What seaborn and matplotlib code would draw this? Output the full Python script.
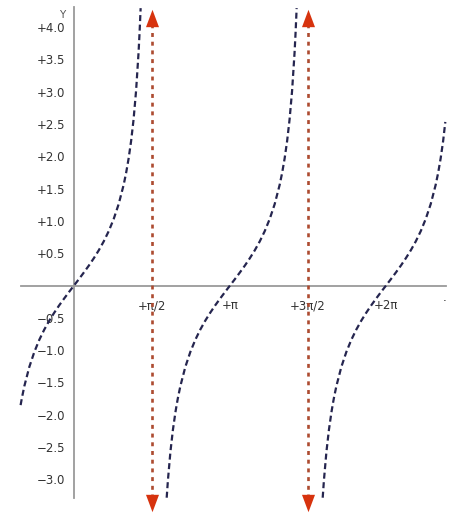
import numpy as np
import pandas as pd
import matplotlib
matplotlib.use("Agg")
import matplotlib.pyplot as plt
import seaborn as sns

PI = np.pi

# ---- data (tangent-shaped branches) ----
shape_u = [-1.275, -1.25, -1.2, -1.15, -1.1, -1.075, -1.05, -1.0, -0.9, -0.8, -0.7, -0.6,
           -0.5, -0.4, -0.3, -0.2, -0.1, 0.0, 0.1, 0.2, 0.3, 0.4, 0.5, 0.6, 0.7,
           0.8, 0.9, 1.0, 1.05, 1.1, 1.15, 1.194, 1.2, 1.25, 1.3, 1.32, 1.342]
shape_y = [-3.282, -3.010, -2.572, -2.234, -1.965, -1.850, -1.743, -1.557, -1.260, -1.030,
           -0.842, -0.684, -0.546, -0.423, -0.309, -0.203, -0.100, 0.0, 0.100, 0.203,
           0.309, 0.423, 0.546, 0.684, 0.842, 1.030, 1.260, 1.557, 1.743, 1.965,
           2.234, 2.530, 2.572, 3.010, 3.602, 3.903, 4.290]
branch_center = [0.0, PI, 2 * PI]
branch_u_min = [-1.075, -1.275, -1.275]
branch_u_max = [1.342, 1.342, 1.194]

asymptotes = [PI / 2, 3 * PI / 2]
arrow_top, arrow_bottom = 4.133, -3.367

y_ticks = [4.0, 3.5, 3.0, 2.5, 2.0, 1.5, 1.0, 0.5, -0.5, -1.0, -1.5, -2.0, -2.5, -3.0]
x_ticks = [PI / 2, PI, 3 * PI / 2, 2 * PI]
x_tick_labels = ["+π/2", "+π", "+3π/2", "+2π"]

rows = []
for b, c in enumerate(branch_center):
    for u, y in zip(shape_u, shape_y):
        if branch_u_min[b] - 1e-9 <= u <= branch_u_max[b] + 1e-9:
            rows.append({"x": c + u, "y": y, "branch": b})
df = pd.DataFrame(rows)

sns.set_style("white")
plt.rcParams['font.family'] = ['DejaVu Sans']

fig = plt.figure(figsize=(4.67, 5.27), dpi=100)
ax = fig.add_axes([0, 0, 1, 1])
ax.set_xlim(-1.490, 7.914)
ax.set_ylim(-3.735, 4.416)

# axes spines through origin
for s in ["top", "right"]:
    ax.spines[s].set_visible(False)
ax.spines["left"].set_position(("data", 0))
ax.spines["bottom"].set_position(("data", 0))
ax.spines["left"].set_bounds(-3.28, 4.30)
ax.spines["bottom"].set_bounds(-1.07, 7.50)
for s in ["left", "bottom"]:
    ax.spines[s].set_color("#9a9a9a")
    ax.spines[s].set_linewidth(1.3)
    ax.spines[s].set_zorder(1)

ax.set_yticks(y_ticks)
ax.set_yticklabels([("+%.1f" % v) if v > 0 else ("−%.1f" % abs(v)) for v in y_ticks])
ax.tick_params(axis="y", direction="inout", length=5, width=1, color="#9a9a9a",
               labelsize=8.5, labelcolor="#333333", pad=4)
ax.set_xticks(x_ticks)
ax.set_xticklabels(x_tick_labels)
ax.tick_params(axis="x", length=0, labelsize=8.5, labelcolor="#333333", pad=10)
ax.text(7.47, -0.25, "·", fontsize=8.5, color="#333333", ha="center", va="center")
ax.text(-0.24, 4.19, "Y", fontsize=7.5, color="#555555", ha="center", va="center")

# curve
sns.lineplot(data=df, x="x", y="y", units="branch", estimator=None, sort=False,
             color="#25254f", linewidth=1.6, ax=ax, legend=False,
             dashes=False, zorder=3)
for line in ax.lines:
    line.set_dashes((2.7, 1.6))

# asymptote arrows
tri_up = [(0, 1), (-0.75, -1), (0.75, -1), (0, 1)]
tri_down = [(0, -1), (-0.75, 1), (0.75, 1), (0, -1)]
for a in asymptotes:
    ax.plot([a, a], [arrow_bottom + 0.08, arrow_top - 0.08], color="#ad4b30",
            linewidth=1.9, linestyle=(0, (1.5, 1.8)), zorder=2)
    ax.plot([a], [arrow_top], marker=tri_up, markersize=12.5, color="#d7330e",
            markeredgewidth=0, zorder=4)
    ax.plot([a], [arrow_bottom], marker=tri_down, markersize=12.5, color="#d7330e",
            markeredgewidth=0, zorder=4)

ax.set_xlabel("")
ax.set_ylabel("")
fig.savefig("out.png", dpi=100)
